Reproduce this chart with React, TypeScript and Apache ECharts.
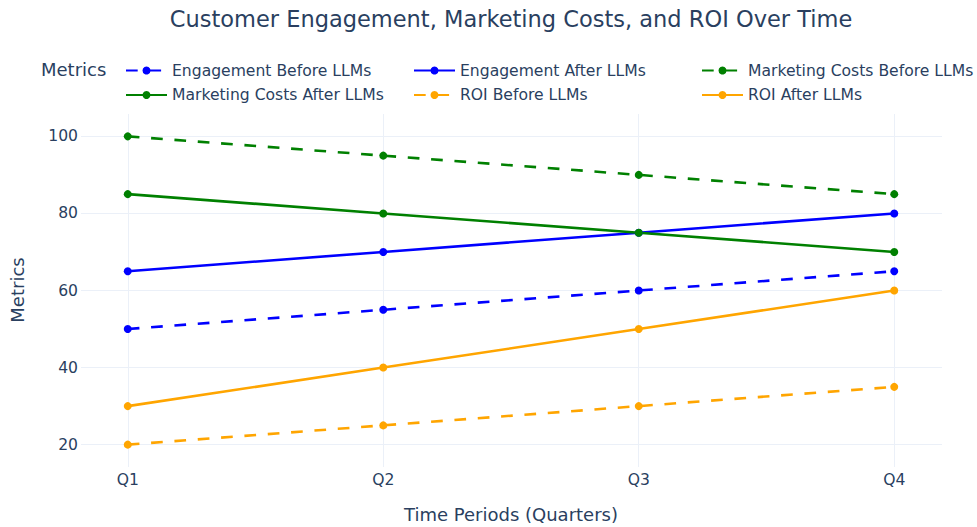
import React, { useEffect, useRef } from "react";
import * as echarts from "echarts";

const quarters = ["Q1", "Q2", "Q3", "Q4"];
const engagementBefore = [50, 55, 60, 65];
const engagementAfter = [65, 70, 75, 80];
const costsBefore = [100, 95, 90, 85];
const costsAfter = [85, 80, 75, 70];
const roiBefore = [20, 25, 30, 35];
const roiAfter = [30, 40, 50, 60];

const seriesDefs = [
  { name: "Engagement Before LLMs", values: engagementBefore, color: "#0000ff", dashed: true },
  { name: "Engagement After LLMs", values: engagementAfter, color: "#0000ff", dashed: false },
  { name: "Marketing Costs Before LLMs", values: costsBefore, color: "#008000", dashed: true },
  { name: "Marketing Costs After LLMs", values: costsAfter, color: "#008000", dashed: false },
  { name: "ROI Before LLMs", values: roiBefore, color: "#ffa500", dashed: true },
  { name: "ROI After LLMs", values: roiAfter, color: "#ffa500", dashed: false },
];

const legendColumns = [
  ["Engagement Before LLMs", "Marketing Costs After LLMs"],
  ["Engagement After LLMs", "ROI Before LLMs"],
  ["Marketing Costs Before LLMs", "ROI After LLMs"],
];

const FONT = "DejaVu Sans";
const TXT = "#2a3f5f";
const GRID = "#EBF0F8";

export default function App() {
  const ref = useRef<HTMLDivElement>(null);
  useEffect(() => {
    if (!ref.current) return;
    const chart = echarts.init(ref.current, null, { renderer: "svg" });
    const legendLefts = [125, 413, 701];
    chart.setOption({
      animation: false,
      backgroundColor: "#ffffff",
      grid: { left: 81, right: 35, top: 114, bottom: 527 - 467 },
      xAxis: {
        type: "value",
        min: -0.183,
        max: 3.187,
        splitNumber: 3,
        minInterval: 1,
        maxInterval: 1,
        axisLine: { show: false },
        axisTick: { show: false },
        axisLabel: {
          showMinLabel: false,
          showMaxLabel: false,
          margin: 5,
          fontFamily: FONT,
          fontSize: 15.6,
          color: TXT,
          formatter: (v: number) => (Number.isInteger(v) && quarters[v] ? quarters[v] : ""),
        },
        splitLine: { show: true, showMinLine: false, showMaxLine: false, lineStyle: { color: GRID, width: 1 } },
      },
      yAxis: {
        type: "value",
        min: 14.2,
        max: 105.8,
        splitNumber: 5,
        axisLine: { show: false },
        axisTick: { show: false },
        axisLabel: {
          showMinLabel: false,
          showMaxLabel: false,
          margin: 3,
          fontFamily: FONT,
          fontSize: 15.6,
          color: TXT,
        },
        splitLine: { show: true, showMinLine: false, showMaxLine: false, lineStyle: { color: GRID, width: 1 } },
      },
      legend: legendColumns.map((names, i) => ({
        data: names,
        orient: "vertical",
        left: legendLefts[i],
        top: 62.5,
        padding: 0,
        itemWidth: 41,
        itemHeight: 10,
        itemGap: 8.5,
        selectedMode: false,
        textStyle: { fontFamily: FONT, fontSize: 15.6, color: TXT, lineHeight: 16 },
      })),
      graphic: [
        {
          type: "text",
          x: 511,
          y: 19,
          style: { text: "Customer Engagement, Marketing Costs, and ROI Over Time", font: `22.5px '${FONT}'`, fill: TXT, textAlign: "center", textVerticalAlign: "middle" },
        },
        {
          type: "text",
          x: 41,
          y: 69,
          style: { text: "Metrics", font: `18px '${FONT}'`, fill: TXT, textAlign: "left", textVerticalAlign: "middle" },
        },
        {
          type: "text",
          x: 511,
          y: 514,
          style: { text: "Time Periods (Quarters)", font: `18px '${FONT}'`, fill: TXT, textAlign: "center", textVerticalAlign: "middle" },
        },
        {
          type: "text",
          x: 17,
          y: 290,
          rotation: Math.PI / 2,
          style: { text: "Metrics", font: `18px '${FONT}'`, fill: TXT, textAlign: "center", textVerticalAlign: "middle" },
        },
      ],
      series: seriesDefs.map((s) => ({
        name: s.name,
        type: "line",
        data: s.values.map((v, i) => [i, v]),
        symbol: "circle",
        symbolSize: 8,
        showSymbol: true,
        color: s.color,
        itemStyle: { color: s.color },
        lineStyle: { color: s.color, width: 2.6, type: s.dashed ? [11.7, 11.7] : "solid" },
      })),
    });
    return () => chart.dispose();
  }, []);
  return (
    <div
      ref={ref}
      style={{ position: "fixed", left: 0, top: 0, width: 977, height: 527, background: "#fff" }}
    />
  );
}
